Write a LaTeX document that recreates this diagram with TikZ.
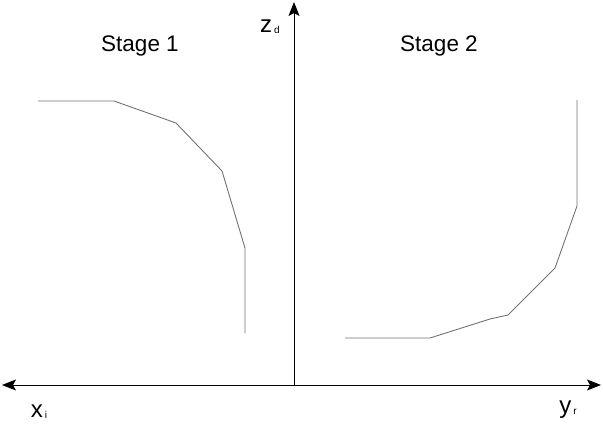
\documentclass[tikz,border=0pt]{standalone}
\usepackage{fontspec}
\setmainfont{Liberation Sans}
\usetikzlibrary{arrows.meta}
\newcommand{\axsub}[1]{\hspace{2pt}\raisebox{-1pt}{\fontsize{10}{11}\selectfont #1}}
\begin{document}
\begin{tikzpicture}[x=1pt,y=-1pt,
  axis/.style={line width=0.9pt,black,-{Stealth[length=14pt,width=11pt,inset=3pt]}},
  curve/.style={line width=0.9pt,black!55},
  lbl/.style={font=\fontsize{24}{26}\selectfont,inner sep=0pt,anchor=base},
  title/.style={font=\fontsize{22.5}{26}\selectfont,inner sep=0pt}]
\useasboundingbox (0,0) rectangle (603,428);
% axes
\coordinate (O) at (294,385);
\coordinate (top) at (294,2);
\coordinate (left) at (2,385);
\coordinate (right) at (601,385);
\draw[axis] (O) -- (top);
\draw[axis] (O) -- (left);
\draw[axis] (O) -- (right);
% stage 1 curve
\coordinate (a1) at (38,101);
\coordinate (a2) at (114,101);
\coordinate (a3) at (176,123);
\coordinate (a4) at (222,171);
\coordinate (a5) at (245,248);
\coordinate (a6) at (245,333);
\draw[curve] (a1) -- (a2) -- (a3) -- (a4) -- (a5) -- (a6);
% stage 2 curve
\coordinate (b1) at (345,338);
\coordinate (b2) at (430,338);
\coordinate (b3) at (490,319);
\coordinate (b4) at (508,315);
\coordinate (b5) at (555,268);
\coordinate (b6) at (577,206);
\coordinate (b7) at (577,100);
\draw[curve] (b1) -- (b2) -- (b3) -- (b4) -- (b5) -- (b6) -- (b7);
% labels
\node[title] (s1) at (140,46) {Stage 1};
\node[title] (s2) at (439,46) {Stage 2};
\node[lbl] (zd) at (270,33) {z\axsub{d}};
\node[lbl] (xi) at (39,417) {x\axsub{i}};
\node[lbl] (yr) at (568,413) {y\axsub{r}};
\end{tikzpicture}
\end{document}
